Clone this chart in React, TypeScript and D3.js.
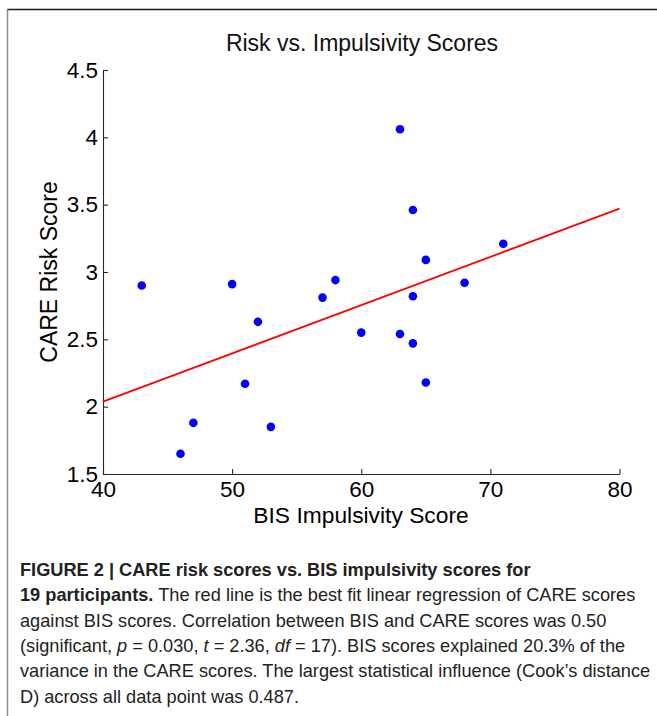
import React, { useEffect, useRef } from "react";
import * as d3 from "d3";

const bisScores = [43, 50, 57, 63, 64, 71, 65, 58, 68, 64, 52, 51, 47, 53, 46, 60, 63, 64, 65];
const careScores = [2.9, 2.91, 2.81, 4.06, 3.46, 3.21, 3.09, 2.94, 2.92, 2.82, 2.63, 2.17, 1.88, 1.85, 1.65, 2.55, 2.54, 2.47, 2.18];
const xTicks = [40, 50, 60, 70, 80];
const yTicks = [1.5, 2, 2.5, 3, 3.5, 4, 4.5];
const xDomain = [40, 80];
const yDomain = [1.5, 4.5];
const chartTitle = "Risk vs. Impulsivity Scores";
const xLabel = "BIS Impulsivity Score";
const yLabel = "CARE Risk Score";

type Seg = { t: string; b?: boolean; i?: boolean };
const captionLines: Seg[][] = [
  [{ t: "FIGURE 2 | CARE risk scores vs. BIS impulsivity scores for", b: true }],
  [
    { t: "19 participants.", b: true },
    { t: " The red line is the best fit linear regression of CARE scores" },
  ],
  [{ t: "against BIS scores. Correlation between BIS and CARE scores was 0.50" }],
  [
    { t: "(significant, " },
    { t: "p", i: true },
    { t: " = 0.030, " },
    { t: "t", i: true },
    { t: " = 2.36, " },
    { t: "df", i: true },
    { t: " = 17). BIS scores explained 20.3% of the" },
  ],
  [{ t: "variance in the CARE scores. The largest statistical influence (Cook\u2019s distance" }],
  [{ t: "D) across all data point was 0.487." }],
];

const W = 657;
const H = 716;
const FONT = "'Liberation Sans', Arial, Helvetica, sans-serif";

export default function App() {
  const xAxisRef = useRef<SVGGElement>(null);
  const yAxisRef = useRef<SVGGElement>(null);

  const x = d3.scaleLinear().domain(xDomain).range([103, 619.5]);
  const y = d3.scaleLinear().domain(yDomain).range([474, 70]);

  const mx = d3.mean(bisScores) as number;
  const my = d3.mean(careScores) as number;
  let sxy = 0;
  let sxx = 0;
  bisScores.forEach((v, k) => {
    sxy += (v - mx) * (careScores[k] - my);
    sxx += (v - mx) * (v - mx);
  });
  const slope = sxy / sxx;
  const intercept = my - slope * mx;
  const fitPts: [number, number][] = xDomain.map((v) => [v, intercept + slope * v]);
  const line = d3
    .line<[number, number]>()
    .x((d) => x(d[0]))
    .y((d) => y(d[1]));

  useEffect(() => {
    const style = (g: d3.Selection<SVGGElement, unknown, null, undefined>) => {
      g.select(".domain").attr("stroke", "#262626").attr("stroke-width", 1.1);
      g.selectAll(".tick line").attr("stroke", "#262626").attr("stroke-width", 1.1);
      g.selectAll(".tick text")
        .attr("fill", "#000")
        .style("font-family", FONT)
        .style("font-size", "22.5px");
      g.attr("font-size", null).attr("font-family", null);
    };
    if (xAxisRef.current) {
      const g = d3.select(xAxisRef.current);
      g.call(
        d3
          .axisBottom(x)
          .tickValues(xTicks)
          .tickSizeInner(-5)
          .tickSizeOuter(0)
          .tickPadding(7)
          .tickFormat((d) => String(d))
      );
      style(g);
    }
    if (yAxisRef.current) {
      const g = d3.select(yAxisRef.current);
      g.call(
        d3
          .axisLeft(y)
          .tickValues(yTicks)
          .tickSizeInner(-5)
          .tickSizeOuter(0)
          .tickPadding(5)
          .tickFormat((d) => String(d))
      );
      style(g);
    }
  }, []);

  return (
    <svg
      width={W}
      height={H}
      style={{ position: "absolute", left: 0, top: 0, background: "#fff" }}
      fontFamily={FONT}
    >
      <rect x={0} y={0} width={W} height={H} fill="#fff" />
      {/* frame */}
      <line x1={7} y1={9.5} x2={W} y2={9.5} stroke="#1a1a1a" strokeWidth={1.6} />
      <line x1={7.5} y1={9} x2={7.5} y2={H} stroke="#8c8c8c" strokeWidth={1.5} />

      <text x={362} y={51} textAnchor="middle" fontSize={23} fill="#111">
        {chartTitle}
      </text>

      <g ref={xAxisRef} transform={`translate(0,${y(yDomain[0])})`} />
      <g ref={yAxisRef} transform={`translate(${x(xDomain[0])},0)`} />

      <path d={line(fitPts) || ""} fill="none" stroke="#ff0000" strokeWidth={1.8} />

      {bisScores.map((v, k) => (
        <circle key={k} cx={x(v)} cy={y(careScores[k])} r={4.3} fill="#0000ff" />
      ))}

      <text x={361} y={522.5} textAnchor="middle" fontSize={22.8} fill="#000">
        {xLabel}
      </text>
      <text
        transform={`translate(57,272) rotate(-90)`}
        textAnchor="middle"
        fontSize={23}
        fill="#000"
      >
        {yLabel}
      </text>

      {captionLines.map((segs, li) => (
        <text key={li} x={20} y={576 + li * 25.3} fontSize={18.2} fill="#222">
          {segs.map((s, si) => (
            <tspan
              key={si}
              fontWeight={s.b ? "bold" : "normal"}
              fontStyle={s.i ? "italic" : "normal"}
            >
              {s.t}
            </tspan>
          ))}
        </text>
      ))}
    </svg>
  );
}
